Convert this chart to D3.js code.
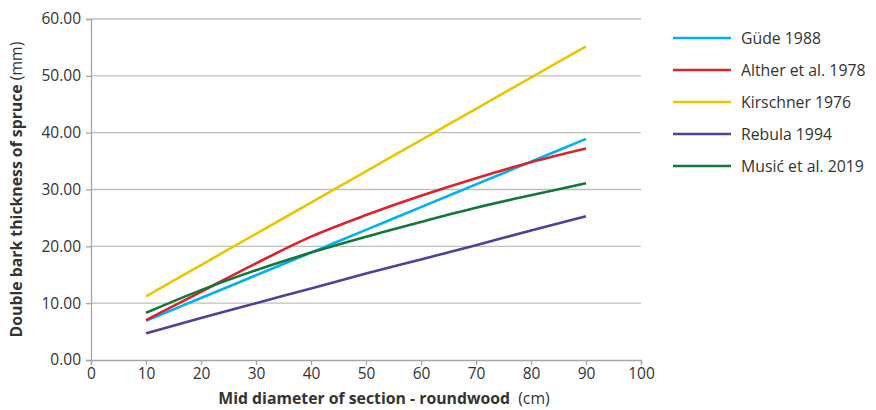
<!DOCTYPE html>
<html lang="en">
<head>
<meta charset="UTF-8">
<title>Double bark thickness of spruce</title>
<style>
  body { margin: 0; background: #fff; font-family: "Open Sans", "Noto Sans", sans-serif; }
  svg text { fill: #333; }
</style>
</head>
<body>
<svg id="chart" width="876" height="410"></svg>
<script src="https://d3js.org/d3.v7.min.js"></script>
<script>
// data
const diameters = [10, 20, 30, 40, 50, 60, 70, 80, 90];
const gude      = [6.9, 10.9, 14.9, 18.9, 22.9, 26.9, 30.9, 34.9, 38.9];
const alther    = [7.0, 12.0, 17.0, 21.7, 25.5, 28.9, 32.0, 34.8, 37.2];
const kirschner = [11.2, 16.7, 22.2, 27.7, 33.2, 38.7, 44.2, 49.7, 55.2];
const rebula    = [4.7, 7.4, 10.0, 12.6, 15.2, 17.7, 20.2, 22.8, 25.3];
const music     = [8.3, 12.3, 15.8, 18.9, 21.7, 24.3, 26.8, 29.0, 31.1];
const seriesNames = ["Güde 1988", "Alther et al. 1978", "Kirschner 1976", "Rebula 1994", "Musić et al. 2019"];
const seriesColors = ["#00B0F0", "#D9232D", "#E9C600", "#563D98", "#14773A"];
const xTicks = [0, 10, 20, 30, 40, 50, 60, 70, 80, 90, 100];
const yTicks = [0, 10, 20, 30, 40, 50, 60];

const series = [gude, alther, kirschner, rebula, music].map((vals, i) => ({
  name: seriesNames[i],
  color: seriesColors[i],
  points: vals.map((v, j) => ({ x: diameters[j], y: v }))
}));

const svg = d3.select("#chart");
const margin = { left: 91, right: 235, top: 19, bottom: 50 };
const W = 876, H = 410;

const x = d3.scaleLinear().domain([0, 100]).range([margin.left, W - margin.right]);
const y = d3.scaleLinear().domain([0, 60]).range([H - margin.bottom, margin.top]);

// gridlines
svg.append("g")
  .selectAll("line")
  .data(yTicks.filter(d => d > 0))
  .enter().append("line")
  .attr("x1", x(0)).attr("x2", x(100))
  .attr("y1", d => y(d)).attr("y2", d => y(d))
  .attr("stroke", "#BFBFBF").attr("stroke-width", 1.3);

// x axis
const xAxis = svg.append("g")
  .attr("transform", `translate(0,${y(0)})`)
  .call(d3.axisBottom(x).tickValues(xTicks).tickSize(5).tickPadding(3));
xAxis.selectAll("text").attr("font-size", 15.5).attr("font-family", "Open Sans");

// y axis
const yAxis = svg.append("g")
  .attr("transform", `translate(${x(0)},0)`)
  .call(d3.axisLeft(y).tickValues(yTicks).tickFormat(d3.format(".2f")).tickSize(5).tickPadding(5));
yAxis.selectAll("text").attr("font-size", 15.5).attr("font-family", "Open Sans");

[xAxis, yAxis].forEach(a => {
  a.select(".domain").attr("stroke", "#A6A6A6").attr("stroke-width", 1.3);
  a.selectAll(".tick line").attr("stroke", "#A6A6A6").attr("stroke-width", 1.3);
});

// lines
const line = d3.line()
  .x(d => x(d.x))
  .y(d => y(d.y))
  .curve(d3.curveMonotoneX);

svg.append("g")
  .selectAll("path")
  .data(series)
  .enter().append("path")
  .attr("d", d => line(d.points))
  .attr("fill", "none")
  .attr("stroke", d => d.color)
  .attr("stroke-width", 2.6);

// axis titles
const xTitle = svg.append("text")
  .attr("x", 384)
  .attr("y", 404)
  .attr("text-anchor", "middle")
  .attr("font-size", 15.8);
xTitle.append("tspan").attr("font-weight", "bold").text("Mid diameter of section - roundwood");
xTitle.append("tspan").text("\u00a0 (cm)");

const yTitle = svg.append("text")
  .attr("transform", `translate(22,${(y(0) + y(60)) / 2}) rotate(-90)`)
  .attr("text-anchor", "middle")
  .attr("font-size", 15.8);
yTitle.append("tspan").attr("font-weight", "bold").text("Double bark thickness of spruce");
yTitle.append("tspan").text(" (mm)");

// legend
const legend = svg.append("g").attr("transform", "translate(673,38)");
const item = legend.selectAll("g")
  .data(series)
  .enter().append("g")
  .attr("transform", (d, i) => `translate(0,${i * 32})`);
item.append("line")
  .attr("x1", 0).attr("x2", 58)
  .attr("stroke", d => d.color)
  .attr("stroke-width", 2.6);
item.append("text")
  .attr("x", 68)
  .attr("dy", "0.35em")
  .attr("font-size", 15.8)
  .text(d => d.name);
</script>
</body>
</html>
